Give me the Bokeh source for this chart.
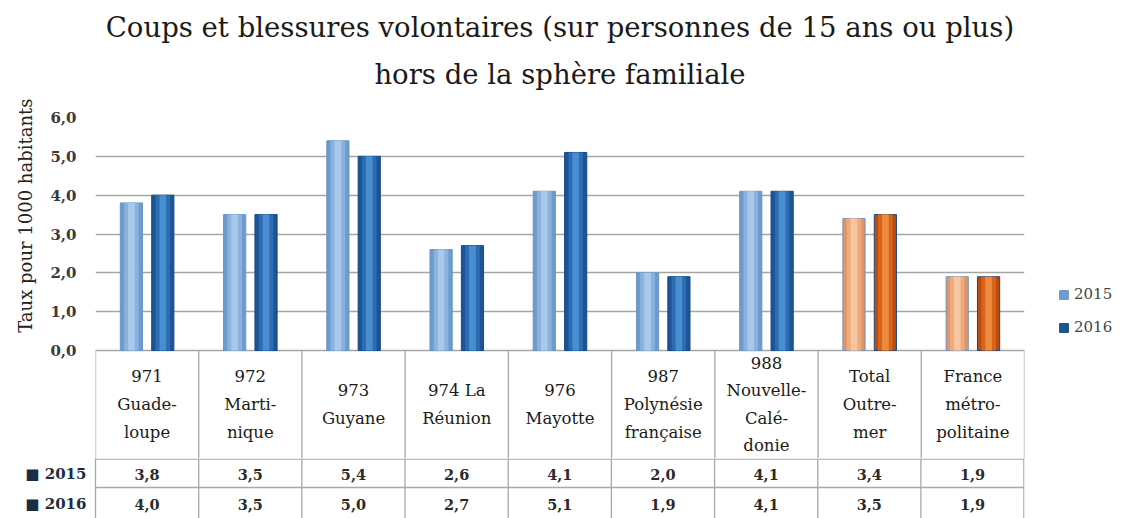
from bokeh.plotting import figure
from bokeh.models import (FactorRange, Range1d, FixedTicker, Legend, LegendItem,
                          ColumnDataSource, Title)
from bokeh.transform import dodge
from bokeh.layouts import column
from bokeh.core.properties import value
from bokeh.embed import file_html
from bokeh.resources import INLINE

# ---------------- data ----------------
categories = ["971\nGuade-\nloupe", "972\nMarti-\nnique", "973\nGuyane",
              "974 La\nRéunion", "976\nMayotte", "987\nPolynésie\nfrançaise",
              "988\nNouvelle-\nCalé-\ndonie", "Total\nOutre-\nmer",
              "France\nmétro-\npolitaine"]
aggregates = ["Total\nOutre-\nmer", "France\nmétro-\npolitaine"]
years = ["2015", "2016"]
values_2015 = [3.8, 3.5, 5.4, 2.6, 4.1, 2.0, 4.1, 3.4, 1.9]
values_2016 = [4.0, 3.5, 5.0, 2.7, 5.1, 1.9, 4.1, 3.5, 1.9]
y_ticks = [0, 1, 2, 3, 4, 5, 6]
y_tick_labels = ["0,0", "1,0", "2,0", "3,0", "4,0", "5,0", "6,0"]
title_line1 = "Coups et blessures volontaires (sur personnes de 15 ans ou plus)"
title_line2 = "hors de la sphère familiale"
y_label = "Taux pour 1000 habitants"

FONT = "DejaVu Serif"
FRAME_W = 929
LEFT = 93
RIGHT = 91
FRAME_TOP = 117
CHART_PX = 233          # pixel height of the 0..6 value range
HEAD = 108              # pixel height of the category header row
ROW1, ROW2 = 29, 31     # pixel heights of the two value rows (last one cut)
PXU = CHART_PX / 6.0
n = len(categories)
line_col = "#a8a8a8"

blue_15 = ["#6e9acd", "#8ab2df", "#a9c8ea"]
blue_16 = ["#1c5495", "#2c6cb3", "#4a8ed2"]
orng_15 = ["#e39463", "#eeaa7d", "#f6c6a0"]
orng_16 = ["#b94d10", "#d8641b", "#ee8a3e"]

def layer_colors(blue, orange, k):
    return [orange[k] if c in aggregates else blue[k] for c in categories]

def fmt(v):
    return f"{v:.1f}".replace(".", ",")

# ================= chart + header row =================
head_units = HEAD / PXU
p = figure(x_range=FactorRange(factors=categories, range_padding=0),
           y_range=Range1d(-head_units, 6),
           frame_width=FRAME_W, frame_height=CHART_PX + HEAD,
           output_backend="svg", toolbar_location=None,
           min_border_left=LEFT, min_border_right=RIGHT, min_border_top=FRAME_TOP,
           min_border_bottom=0)
p.outline_line_color = None

p.title.text = title_line1
p.title.align = "center"
p.title.text_font = FONT
p.title.text_font_size = "27.5px"
p.title.text_font_style = "normal"
p.title.text_color = "#1a1a1a"
p.title.standoff = -30
p.add_layout(Title(text=title_line2, align="center", text_font=FONT,
                   text_font_size="27.5px", text_font_style="normal",
                   text_color="#1a1a1a", standoff=56), "above")

p.xaxis.visible = False
p.xgrid.grid_line_color = None
p.yaxis.ticker = FixedTicker(ticks=y_ticks)
p.yaxis.major_label_overrides = {t: l for t, l in zip(y_ticks, y_tick_labels)}
p.yaxis.major_label_text_font = FONT
p.yaxis.major_label_text_font_size = "15px"
p.yaxis.major_label_text_font_style = "bold"
p.yaxis.major_label_text_color = "#3a3a3a"
p.yaxis.major_label_standoff = 13
p.yaxis.major_tick_line_color = None
p.yaxis.minor_tick_line_color = None
p.yaxis.axis_line_color = None
p.ygrid.grid_line_color = "#a6a6a6"
p.ygrid.grid_line_width = 1.5

# vertical axis title, its upper end a little above the top of the value range
p.add_layout(Title(text=y_label, align="right", offset=-19, text_font=FONT,
                   text_font_size="18px", text_font_style="normal",
                   text_color="#222222", standoff=24), "left")

src = ColumnDataSource(dict(cat=categories, v15=values_2015, v16=values_2016,
                            a0=layer_colors(blue_15, orng_15, 0),
                            a1=layer_colors(blue_15, orng_15, 1),
                            a2=layer_colors(blue_15, orng_15, 2),
                            b0=layer_colors(blue_16, orng_16, 0),
                            b1=layer_colors(blue_16, orng_16, 1),
                            b2=layer_colors(blue_16, orng_16, 2)))
BW = 0.215
OFF = 0.152
widths = [BW, BW * 0.66, BW * 0.3]
legend_renderers = {}
for col, pre, off, outline in (("v15", "a", -OFF, "#6a94c4"), ("v16", "b", OFF, "#174a85")):
    for k, w in enumerate(widths):
        r = p.vbar(x=dodge("cat", off, range=p.x_range), top=col, width=w,
                   source=src, fill_color=f"{pre}{k}",
                   line_color=outline if k == 0 else None, line_width=1)
        if k == 0:
            legend_renderers[col] = r

legend = Legend(items=[LegendItem(label=years[0], renderers=[legend_renderers["v15"]]),
                       LegendItem(label=years[1], renderers=[legend_renderers["v16"]])],
                location=(34, 122))
legend.label_text_font = FONT
legend.label_text_font_size = "15px"
legend.glyph_width = 11
legend.glyph_height = 11
legend.spacing = 15
legend.border_line_color = None
legend.background_fill_alpha = 0
legend.padding = 4
p.add_layout(legend, "right")

# header row of the table: column separators and category names
p.segment(x0=list(range(n + 1)), y0=[0] * (n + 1), x1=list(range(n + 1)),
          y1=[-head_units] * (n + 1), line_color=line_col, line_width=1.3)
p.text(x=categories, y=[-head_units / 2] * n, text=categories, text_align="center",
       text_baseline="middle", text_font=value(FONT), text_font_size="16.5px",
       text_line_height=1.45, text_color="#1a1a1a")

# ================= value rows =================
t = figure(x_range=Range1d(0, n + 0.004), y_range=Range1d(ROW1 + ROW2, 0),
           frame_width=FRAME_W, frame_height=ROW1 + ROW2,
           output_backend="svg", toolbar_location=None,
           min_border_left=LEFT, min_border_right=RIGHT,
           min_border_top=0, min_border_bottom=0)
t.outline_line_color = None
t.xaxis.visible = False
t.grid.visible = False

row_y = [ROW1 / 2 + 1, ROW1 + ROW2 / 2 + 1]

# left axis: row names of the table
t.yaxis.ticker = FixedTicker(ticks=row_y)
t.yaxis.major_label_overrides = {y: "■ " + yr for y, yr in zip(row_y, years)}
t.yaxis.major_label_text_font = FONT
t.yaxis.major_label_text_font_size = "15px"
t.yaxis.major_label_text_font_style = "bold"
t.yaxis.major_label_text_color = "#1c2c44"
t.yaxis.major_label_standoff = 9
t.yaxis.major_tick_out = 0
t.yaxis.major_tick_in = 0
t.yaxis.major_tick_line_color = None
t.yaxis.minor_tick_out = 0
t.yaxis.minor_tick_in = 0
t.yaxis.minor_tick_line_color = None
t.yaxis.axis_line_color = line_col
t.yaxis.axis_line_width = 1.3

edge_x = list(range(1, n)) + [n - 0.002]
t.segment(x0=edge_x, y0=[0] * len(edge_x), x1=edge_x, y1=[ROW1 + ROW2] * len(edge_x),
          line_color=line_col, line_width=1.3)
t.segment(x0=[0], y0=[0.6], x1=[n], y1=[0.6], line_color=line_col, line_width=1.3)
t.segment(x0=[0], y0=[ROW1], x1=[n], y1=[ROW1], line_color=line_col, line_width=1.3)

centers = [i + 0.5 for i in range(n)]
for vals, yy in ((values_2015, row_y[0]), (values_2016, row_y[1])):
    t.text(x=centers, y=[yy] * n, text=[fmt(v) for v in vals],
           text_align="center", text_baseline="middle", text_font=value(FONT),
           text_font_size="14.5px", text_font_style="bold", text_color="#2a2a2a")

layout = column(p, t, spacing=0)
open("out.html", "w").write(file_html(layout, INLINE))
